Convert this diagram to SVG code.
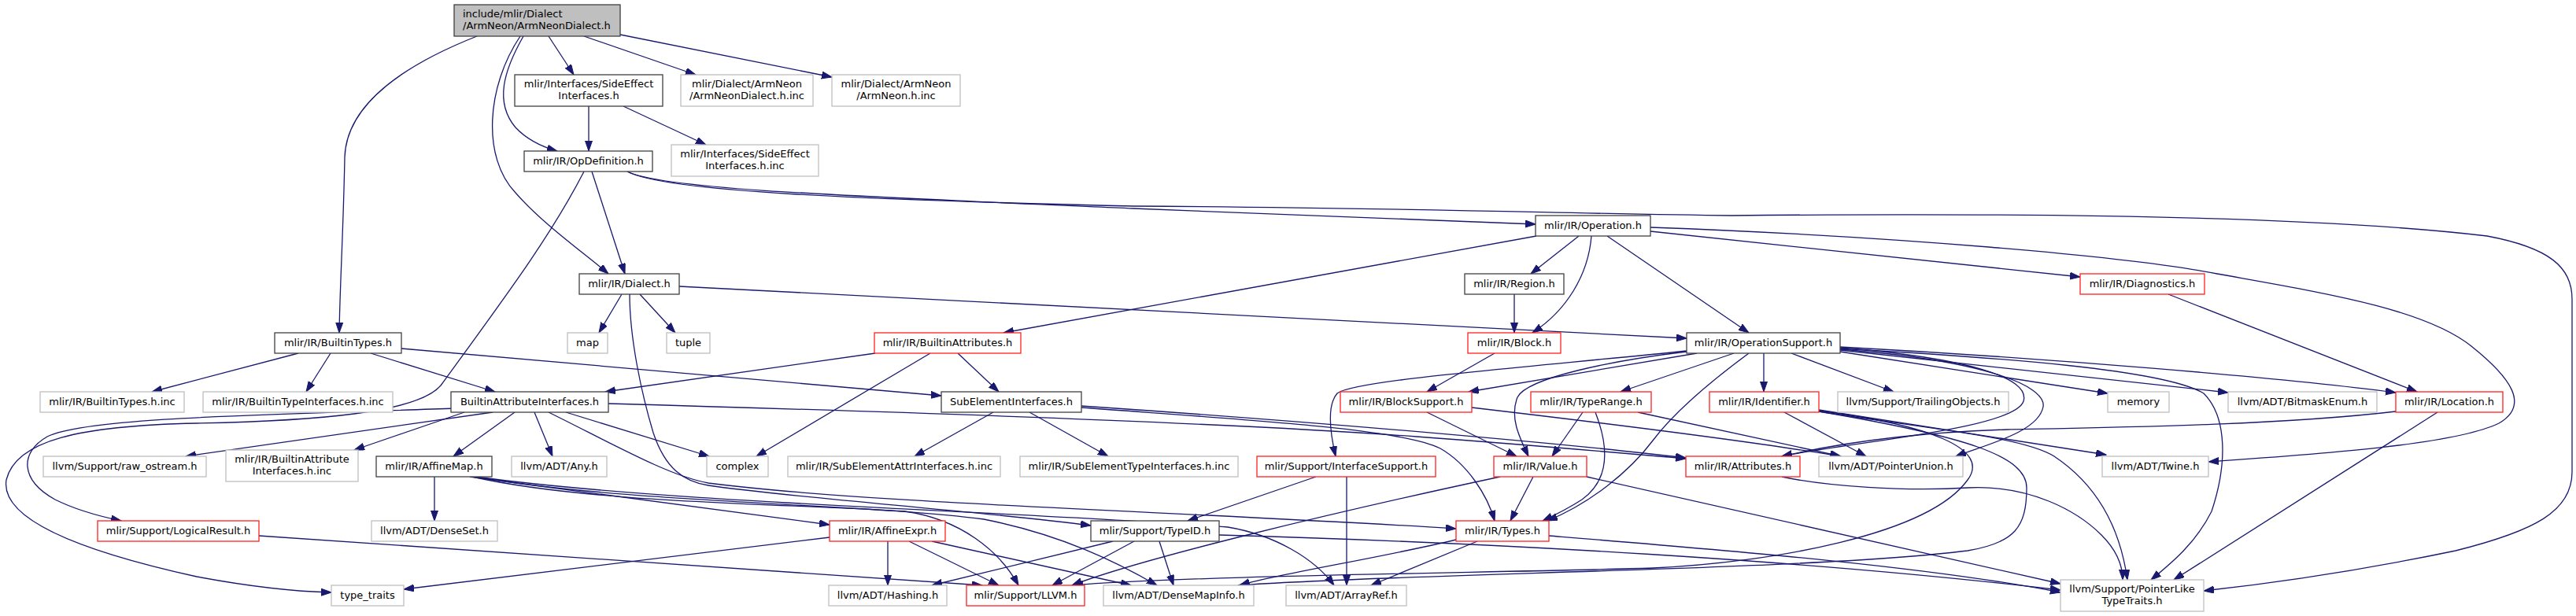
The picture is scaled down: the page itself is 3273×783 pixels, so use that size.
<svg xmlns="http://www.w3.org/2000/svg" width="3273" height="783" viewBox="0 0 3273 783">
<style>
rect{fill:#fff;stroke-width:1.3}
.k rect{stroke:#404040}
.g rect{stroke:#bfbfbf}
.r rect{stroke:#ff2020}
text{font-family:"DejaVu Sans","Liberation Sans",sans-serif;font-size:13px;fill:#000;text-anchor:middle}
#edges path{fill:none;stroke:#191970;stroke-width:1.3;marker-end:url(#a)}
</style>
<defs>
<marker id="a" markerUnits="userSpaceOnUse" markerWidth="14" markerHeight="10" refX="13" refY="4.5" orient="auto"><path d="M0,0 L13,4.5 L0,9 z" fill="#191970" stroke="#191970" stroke-width="1"/></marker>
</defs>
<rect x="0" y="0" width="3273" height="783" style="fill:#fff;stroke:none"/>
<g id="edges">
<path d="M697,46 L729,95"/>
<path d="M742,46 L884,95"/>
<path d="M788,44 L1057,98"/>
<path d="M665,46 C640,90 628,130 655,162 C670,178 690,187 708,192"/>
<path d="M661,46 C618,110 612,200 655,245 C690,285 740,320 773,348"/>
<path d="M606,46 C520,80 440,130 438,200 C436,300 432,360 431,423"/>
<path d="M748,135 L748,192"/>
<path d="M792,135 L897,184"/>
<path d="M752,218 L794,348"/>
<path d="M797,218 C840,240 1050,248 1440,265 C1700,275 1850,281 1951,285"/>
<path d="M797,218 C845,244 1100,254 1440,262 C1800,264 2000,272 2200,274 C2600,270 2950,275 3160,300 C3240,315 3268,340 3268,380 L3268,600 C3268,650 3220,675 3120,700 C3000,725 2900,740 2800,751"/>
<path d="M2006,300 L1945,348"/>
<path d="M2022,300 C2018,350 1990,395 1947,423"/>
<path d="M2042,300 L2222,423"/>
<path d="M1952,300 L1275,423"/>
<path d="M2097,294 L2643,352"/>
<path d="M2097,289 C2400,300 2700,325 2817,348 C2950,372 3080,392 3140,440 C3190,480 3215,515 3175,538 C3120,565 2950,577 2806,587"/>
<path d="M790,374 L761,423"/>
<path d="M813,374 L858,423"/>
<path d="M863,364 L2143,430"/>
<path d="M800,374 C800,430 815,500 830,550 C845,595 868,612 900,617 C1000,632 1250,650 1386,668"/>
<path d="M379,449 L193,498"/>
<path d="M420,449 L389,498"/>
<path d="M471,449 L629,498"/>
<path d="M510,443 L1196,503"/>
<path d="M1112,449 L769,498"/>
<path d="M1182,449 L961,580"/>
<path d="M1217,449 L1269,498"/>
<path d="M1899,449 L1813,498"/>
<path d="M2143,446 C1950,466 1720,483 1699,500 C1686,515 1690,550 1697,580"/>
<path d="M2156,449 L1866,498"/>
<path d="M2143,447 C2050,458 1940,480 1928,505 C1918,530 1930,555 1942,580"/>
<path d="M2203,449 L2059,498"/>
<path d="M2222,449 C2180,480 2130,520 2100,560 C2070,600 2020,640 1966,662"/>
<path d="M2241,449 L2241,498"/>
<path d="M2276,449 L2406,498"/>
<path d="M2338,447 L2678,500"/>
<path d="M2338,445 L2831,499"/>
<path d="M2338,441 C2600,455 2900,480 3044,499"/>
<path d="M2338,443 C2550,455 2750,470 2800,500 C2830,530 2830,590 2810,650 C2790,690 2760,715 2733,737"/>
<path d="M2338,442 C2500,455 2580,480 2571,510 C2560,545 2350,562 2264,580"/>
<path d="M2338,444 C2520,458 2600,490 2596,517 C2590,550 2520,566 2485,580"/>
<path d="M2755,374 L3071,498"/>
<path d="M1924,374 L1924,423"/>
<path d="M654,524 L576,580"/>
<path d="M679,524 L702,580"/>
<path d="M719,524 L901,580"/>
<path d="M626,524 L236,580"/>
<path d="M590,524 L450,572"/>
<path d="M580,519 C350,527 110,530 60,555 C25,575 25,610 70,635 C100,650 130,657 154,662"/>
<path d="M773,513 C1200,525 1600,540 1800,555 C1950,566 2050,575 2142,583"/>
<path d="M697,524 C780,565 850,605 900,614 C1100,640 1500,650 1850,672"/>
<path d="M1374,516 C1700,538 2000,565 2142,582"/>
<path d="M1374,518 C1600,535 1780,545 1830,570 C1865,590 1890,630 1899,662"/>
<path d="M1262,524 L1162,580"/>
<path d="M1308,524 L1408,580"/>
<path d="M1813,524 L1927,580"/>
<path d="M1870,518 C2100,545 2250,565 2338,580"/>
<path d="M2011,524 L1972,580"/>
<path d="M2027,524 C2045,570 2045,610 2010,635 C1990,648 1975,655 1960,662"/>
<path d="M2081,524 L2339,580"/>
<path d="M2267,524 L2371,580"/>
<path d="M2311,521 L2676,578"/>
<path d="M2311,523 C2450,545 2570,555 2610,580 C2670,620 2695,680 2703,737"/>
<path d="M2311,522 C2450,540 2530,570 2500,610 C2450,680 2250,715 2100,722 C1900,728 1500,732 1363,744"/>
<path d="M2311,523 C2500,555 2575,580 2575,620 C2575,670 2560,690 2500,700 C2300,725 1800,728 1573,744"/>
<path d="M3044,523 C2900,540 2700,543 2550,546 C2420,550 2330,565 2264,580"/>
<path d="M3097,524 L2762,737"/>
<path d="M2264,606 C2320,618 2420,625 2500,620 C2580,616 2640,650 2670,680 C2690,700 2697,718 2697,737"/>
<path d="M1948,606 L1919,662"/>
<path d="M1906,606 C1700,650 1450,710 1362,744"/>
<path d="M2016,606 L2618,742"/>
<path d="M1877,688 L1742,744"/>
<path d="M1850,686 C1750,710 1620,730 1575,744"/>
<path d="M1968,681 C2200,700 2450,720 2618,753"/>
<path d="M1672,606 L1509,662"/>
<path d="M1711,606 L1711,744"/>
<path d="M1414,688 L1184,744"/>
<path d="M1441,688 L1337,744"/>
<path d="M1473,688 L1491,744"/>
<path d="M1549,680 C1900,690 2300,712 2618,750"/>
<path d="M1128,688 L1128,744"/>
<path d="M1155,688 L1269,744"/>
<path d="M1184,688 L1437,744"/>
<path d="M1054,683 L513,749"/>
<path d="M552,606 L552,662"/>
<path d="M597,606 L1054,667"/>
<path d="M600,606 C750,640 1000,640 1150,650 C1220,660 1270,700 1294,744"/>
<path d="M603,606 C800,640 1100,640 1250,660 C1350,680 1420,715 1470,744"/>
<path d="M605,606 C850,640 1300,650 1560,670 C1620,680 1670,710 1695,744"/>
<path d="M329,681 L1248,744"/>
<path d="M742,218 C700,300 640,380 560,490 C530,525 400,535 250,538 C100,541 20,560 8,610 C0,660 100,700 250,733 C330,748 380,752 421,753"/>
</g>
<g id="n_root" class="k"><rect x="577" y="6" width="211" height="40" style="fill:#bfbfbf"/><text x="588" y="22" style="text-anchor:start">include/mlir/Dialect</text><text x="588" y="37" style="text-anchor:start">/ArmNeon/ArmNeonDialect.h</text></g>
<g id="n_sei" class="k"><rect x="654" y="95" width="188" height="40"/><text x="748" y="111">mlir/Interfaces/SideEffect</text><text x="748" y="126">Interfaces.h</text></g>
<g id="n_andinc" class="g"><rect x="865" y="95" width="168" height="40"/><text x="949" y="111">mlir/Dialect/ArmNeon</text><text x="949" y="126">/ArmNeonDialect.h.inc</text></g>
<g id="n_aninc" class="g"><rect x="1057" y="95" width="163" height="40"/><text x="1138.5" y="111">mlir/Dialect/ArmNeon</text><text x="1138.5" y="126">/ArmNeon.h.inc</text></g>
<g id="n_opdef" class="k"><rect x="666" y="192" width="163" height="26"/><text x="747.5" y="208.5">mlir/IR/OpDefinition.h</text></g>
<g id="n_seiinc" class="g"><rect x="853" y="184" width="187" height="40"/><text x="946.5" y="200">mlir/Interfaces/SideEffect</text><text x="946.5" y="215">Interfaces.h.inc</text></g>
<g id="n_op" class="k"><rect x="1951" y="274" width="146" height="26"/><text x="2024" y="290.5">mlir/IR/Operation.h</text></g>
<g id="n_dialect" class="k"><rect x="736" y="348" width="127" height="26"/><text x="799.5" y="364.5">mlir/IR/Dialect.h</text></g>
<g id="n_region" class="k"><rect x="1861" y="348" width="126" height="26"/><text x="1924" y="364.5">mlir/IR/Region.h</text></g>
<g id="n_diag" class="r"><rect x="2643" y="348" width="158" height="26"/><text x="2722" y="364.5">mlir/IR/Diagnostics.h</text></g>
<g id="n_btypes" class="k"><rect x="349" y="423" width="161" height="26"/><text x="429.5" y="439.5">mlir/IR/BuiltinTypes.h</text></g>
<g id="n_map" class="g"><rect x="721" y="423" width="51" height="26"/><text x="746.5" y="439.5">map</text></g>
<g id="n_tuple" class="g"><rect x="847" y="423" width="55" height="26"/><text x="874.5" y="439.5">tuple</text></g>
<g id="n_battrs" class="r"><rect x="1111" y="423" width="186" height="26"/><text x="1204" y="439.5">mlir/IR/BuiltinAttributes.h</text></g>
<g id="n_block" class="r"><rect x="1865" y="423" width="118" height="26"/><text x="1924" y="439.5">mlir/IR/Block.h</text></g>
<g id="n_opsup" class="k"><rect x="2143" y="423" width="195" height="26"/><text x="2240.5" y="439.5">mlir/IR/OperationSupport.h</text></g>
<g id="n_btinc" class="g"><rect x="51" y="498" width="183" height="26"/><text x="142.5" y="514.5">mlir/IR/BuiltinTypes.h.inc</text></g>
<g id="n_btiinc" class="g"><rect x="258" y="498" width="241" height="26"/><text x="378.5" y="514.5">mlir/IR/BuiltinTypeInterfaces.h.inc</text></g>
<g id="n_bai" class="k"><rect x="573" y="498" width="200" height="26"/><text x="673" y="514.5">BuiltinAttributeInterfaces.h</text></g>
<g id="n_subel" class="k"><rect x="1196" y="498" width="178" height="26"/><text x="1285" y="514.5">SubElementInterfaces.h</text></g>
<g id="n_blocksup" class="r"><rect x="1703" y="498" width="167" height="26"/><text x="1786.5" y="514.5">mlir/IR/BlockSupport.h</text></g>
<g id="n_typerange" class="r"><rect x="1945" y="498" width="153" height="26"/><text x="2021.5" y="514.5">mlir/IR/TypeRange.h</text></g>
<g id="n_ident" class="r"><rect x="2172" y="498" width="139" height="26"/><text x="2241.5" y="514.5">mlir/IR/Identifier.h</text></g>
<g id="n_trailing" class="g"><rect x="2335" y="498" width="217" height="26"/><text x="2443.5" y="514.5">llvm/Support/TrailingObjects.h</text></g>
<g id="n_memory" class="g"><rect x="2678" y="498" width="78" height="26"/><text x="2717" y="514.5">memory</text></g>
<g id="n_bitmask" class="g"><rect x="2831" y="498" width="189" height="26"/><text x="2925.5" y="514.5">llvm/ADT/BitmaskEnum.h</text></g>
<g id="n_location" class="r"><rect x="3044" y="498" width="136" height="26"/><text x="3112" y="514.5">mlir/IR/Location.h</text></g>
<g id="n_raw" class="g"><rect x="55" y="580" width="207" height="26"/><text x="158.5" y="596.5">llvm/Support/raw_ostream.h</text></g>
<g id="n_baiinc" class="g"><rect x="287" y="572" width="168" height="40"/><text x="371" y="588">mlir/IR/BuiltinAttribute</text><text x="371" y="603">Interfaces.h.inc</text></g>
<g id="n_affmap" class="k"><rect x="478" y="580" width="147" height="26"/><text x="551.5" y="596.5">mlir/IR/AffineMap.h</text></g>
<g id="n_any" class="g"><rect x="650" y="580" width="121" height="26"/><text x="710.5" y="596.5">llvm/ADT/Any.h</text></g>
<g id="n_complex" class="g"><rect x="898" y="580" width="78" height="26"/><text x="937" y="596.5">complex</text></g>
<g id="n_seainc" class="g"><rect x="1001" y="580" width="270" height="26"/><text x="1136" y="596.5">mlir/IR/SubElementAttrInterfaces.h.inc</text></g>
<g id="n_setinc" class="g"><rect x="1296" y="580" width="277" height="26"/><text x="1434.5" y="596.5">mlir/IR/SubElementTypeInterfaces.h.inc</text></g>
<g id="n_ifsup" class="r"><rect x="1597" y="580" width="227" height="26"/><text x="1710.5" y="596.5">mlir/Support/InterfaceSupport.h</text></g>
<g id="n_value" class="r"><rect x="1898" y="580" width="118" height="26"/><text x="1957" y="596.5">mlir/IR/Value.h</text></g>
<g id="n_attrs" class="r"><rect x="2142" y="580" width="145" height="26"/><text x="2214.5" y="596.5">mlir/IR/Attributes.h</text></g>
<g id="n_punion" class="g"><rect x="2311" y="580" width="183" height="26"/><text x="2402.5" y="596.5">llvm/ADT/PointerUnion.h</text></g>
<g id="n_twine" class="g"><rect x="2671" y="580" width="135" height="26"/><text x="2738.5" y="596.5">llvm/ADT/Twine.h</text></g>
<g id="n_logical" class="r"><rect x="124" y="662" width="205" height="26"/><text x="226.5" y="678.5">mlir/Support/LogicalResult.h</text></g>
<g id="n_denseset" class="g"><rect x="472" y="662" width="160" height="26"/><text x="552" y="678.5">llvm/ADT/DenseSet.h</text></g>
<g id="n_affexpr" class="r"><rect x="1054" y="662" width="147" height="26"/><text x="1127.5" y="678.5">mlir/IR/AffineExpr.h</text></g>
<g id="n_typeid" class="k"><rect x="1386" y="662" width="163" height="26"/><text x="1467.5" y="678.5">mlir/Support/TypeID.h</text></g>
<g id="n_types" class="r"><rect x="1850" y="662" width="118" height="26"/><text x="1909" y="678.5">mlir/IR/Types.h</text></g>
<g id="n_typetraits" class="g"><rect x="421" y="744" width="92" height="26"/><text x="467" y="760.5">type_traits</text></g>
<g id="n_hashing" class="g"><rect x="1053" y="744" width="150" height="26"/><text x="1128" y="760.5">llvm/ADT/Hashing.h</text></g>
<g id="n_llvm" class="r"><rect x="1228" y="744" width="150" height="26"/><text x="1303" y="760.5">mlir/Support/LLVM.h</text></g>
<g id="n_dmi" class="g"><rect x="1402" y="744" width="191" height="26"/><text x="1497.5" y="760.5">llvm/ADT/DenseMapInfo.h</text></g>
<g id="n_arrayref" class="g"><rect x="1634" y="744" width="153" height="26"/><text x="1710.5" y="760.5">llvm/ADT/ArrayRef.h</text></g>
<g id="n_plike" class="g"><rect x="2618" y="737" width="182" height="40"/><text x="2709" y="753">llvm/Support/PointerLike</text><text x="2709" y="768">TypeTraits.h</text></g>
</svg>
